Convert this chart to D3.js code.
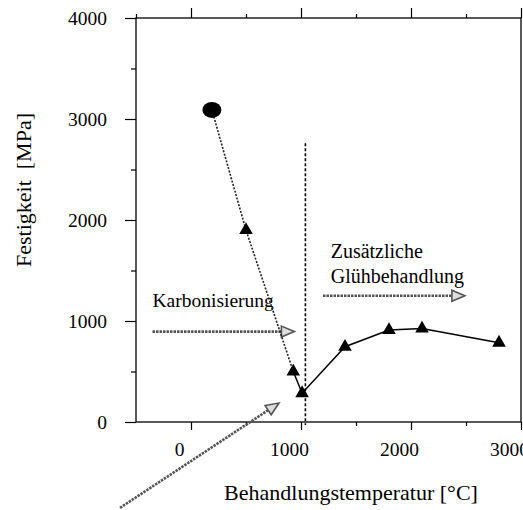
<!DOCTYPE html>
<html>
<head>
<meta charset="utf-8">
<script src="https://cdn.jsdelivr.net/npm/d3@7"></script>
<style>
  html, body { margin: 0; padding: 0; background: #fff; }
  svg { display: block; }
</style>
</head>
<body>
<svg id="chart" width="523" height="510"></svg>
<script>
// ---- Data ----
const xTicks = [0, 1000, 2000, 3000];
const yTicks = [0, 1000, 2000, 3000, 4000];
const xMinorTicks = [-500, 500, 1500, 2500];
const yMinorTicks = [500, 1500, 2500, 3500];

// carbonisation series (dotted)
const carbTemp = [190, 500, 930];
const carbStrength = [3090, 1900, 500];
// additional annealing series (solid)
const annealTemp = [930, 1010, 1400, 1800, 2100, 2800];
const annealStrength = [500, 285, 745, 910, 925, 785];

// annotation arrows (data coordinates)
const arrowKarb = [[-350, 895], [940, 895]];
const arrowGlueh = [[1200, 1250], [2490, 1250]];
const arrowDiag = [[-645, -850], [800, 188]];
const dividerTemp = 1040;
const dividerRange = [2760, -30];

const xTitle = "Behandlungstemperatur [°C]";
const yTitle = "Festigkeit  [MPa]";
const labelKarb = "Karbonisierung";
const labelGlueh = ["Zusätzliche", "Glühbehandlung"];

(function () {
const FONT = "Liberation Serif";
const svg = d3.select("#chart");
const L = 136, R = 521, T = 18, B = 422;
const x = d3.scaleLinear().domain([-500, 3000]).range([L, R]);
const y = d3.scaleLinear().domain([0, 4000]).range([B, T]);

// frame
svg.append("rect").attr("x", L).attr("y", T).attr("width", R - L).attr("height", B - T)
  .attr("fill", "none").attr("stroke", "#000").attr("stroke-width", 1.3);

// axes
const fs = 19.5;
const gLeft = svg.append("g").attr("transform", `translate(${L},0)`)
  .call(d3.axisLeft(y).tickValues(yTicks).tickSize(11).tickFormat(d3.format("d")));
const gLeftMinor = svg.append("g").attr("transform", `translate(${L},0)`)
  .call(d3.axisLeft(y).tickValues(yMinorTicks).tickSize(5).tickFormat(""));
const gTop = svg.append("g").attr("transform", `translate(0,${T})`)
  .call(d3.axisTop(x).tickValues(xTicks).tickSize(10).tickFormat(""));
const gTopMinor = svg.append("g").attr("transform", `translate(0,${T})`)
  .call(d3.axisTop(x).tickValues(xMinorTicks).tickSize(4).tickFormat(""));
const gBottom = svg.append("g").attr("transform", `translate(0,${B})`)
  .call(d3.axisBottom(x).tickValues(xTicks).tickSize(8).tickFormat(d3.format("d")));
const gBottomMinor = svg.append("g").attr("transform", `translate(0,${B})`)
  .call(d3.axisBottom(x).tickValues(xMinorTicks.filter(v => v > -500)).tickSize(4).tickFormat(""));

[gLeft, gLeftMinor, gTop, gTopMinor, gBottom, gBottomMinor].forEach(g => {
  g.select(".domain").remove();
  g.selectAll(".tick line").attr("stroke", "#000").attr("stroke-width", 1.2);
  g.selectAll("text").style("font-family", FONT).style("font-size", fs + "px").attr("fill", "#000");
});
gLeft.selectAll("text").attr("x", -29).attr("dy", "0.35em");
gBottom.selectAll("text").attr("y", 20).attr("dy", "0.71em").attr("dx", -12);

function txt(sel) { return sel.style("font-family", FONT).attr("fill", "#000"); }

// axis titles
txt(svg.append("text")).attr("x", 351).attr("y", 500).attr("text-anchor", "middle")
  .style("font-size", "22px").text(xTitle);
txt(svg.append("text")).attr("transform", "translate(31,190) rotate(-90)").attr("text-anchor", "middle")
  .style("font-size", "22px").style("white-space", "pre").text(yTitle);

// vertical divider
svg.append("line")
  .attr("x1", x(dividerTemp)).attr("x2", x(dividerTemp))
  .attr("y1", y(dividerRange[0])).attr("y2", y(dividerRange[1]))
  .attr("stroke", "#000").attr("stroke-width", 1.6).attr("stroke-dasharray", "3,2");

// arrows
function arrow(pts) {
  const [p0, p1] = pts.map(p => [x(p[0]), y(p[1])]);
  const ang = Math.atan2(p1[1] - p0[1], p1[0] - p0[0]);
  const hl = 13, hw = 5.5;
  const base = [p1[0] - hl * Math.cos(ang), p1[1] - hl * Math.sin(ang)];
  svg.append("line").attr("x1", p0[0]).attr("y1", p0[1]).attr("x2", base[0]).attr("y2", base[1])
    .attr("stroke", "#555").attr("stroke-width", 2.6).attr("stroke-dasharray", "2.5,1");
  const nx = -Math.sin(ang), ny = Math.cos(ang);
  const head = [p1, [base[0] + nx * hw, base[1] + ny * hw], [base[0] - nx * hw, base[1] - ny * hw]];
  svg.append("path").attr("d", "M" + head.map(p => p.join(",")).join("L") + "Z")
    .attr("fill", "#ddd").attr("stroke", "#555").attr("stroke-width", 1.6);
}
arrow(arrowKarb);
arrow(arrowGlueh);
arrow(arrowDiag);

// labels
txt(svg.append("text")).attr("x", x(-350)).attr("y", y(1140)).style("font-size", "19.5px").text(labelKarb);
txt(svg.append("text")).attr("x", x(1270)).attr("y", y(1620)).style("font-size", "20px").text(labelGlueh[0]);
txt(svg.append("text")).attr("x", x(1270)).attr("y", y(1375)).style("font-size", "20px").text(labelGlueh[1]);

// series lines
const line = d3.line().x(d => x(d[0])).y(d => y(d[1]));
const carb = carbTemp.map((t, i) => [t, carbStrength[i]]);
const anneal = annealTemp.map((t, i) => [t, annealStrength[i]]);
svg.append("path").datum(carb).attr("d", line).attr("fill", "none")
  .attr("stroke", "#222").attr("stroke-width", 1.6).attr("stroke-dasharray", "2,1.5");
svg.append("path").datum(anneal).attr("d", line).attr("fill", "none")
  .attr("stroke", "#000").attr("stroke-width", 1.5);

// markers
const tri = d3.symbol().type(d3.symbolTriangle).size(80);
svg.append("ellipse").attr("cx", x(carb[0][0])).attr("cy", y(carb[0][1])).attr("rx", 9.5).attr("ry", 8).attr("fill", "#000");
svg.selectAll("path.tri").data(carb.slice(1).concat(anneal.slice(1))).enter().append("path")
  .attr("class", "tri").attr("d", tri)
  .attr("transform", d => `translate(${x(d[0])},${y(d[1])})`).attr("fill", "#000");
})();
</script>
</body>
</html>
